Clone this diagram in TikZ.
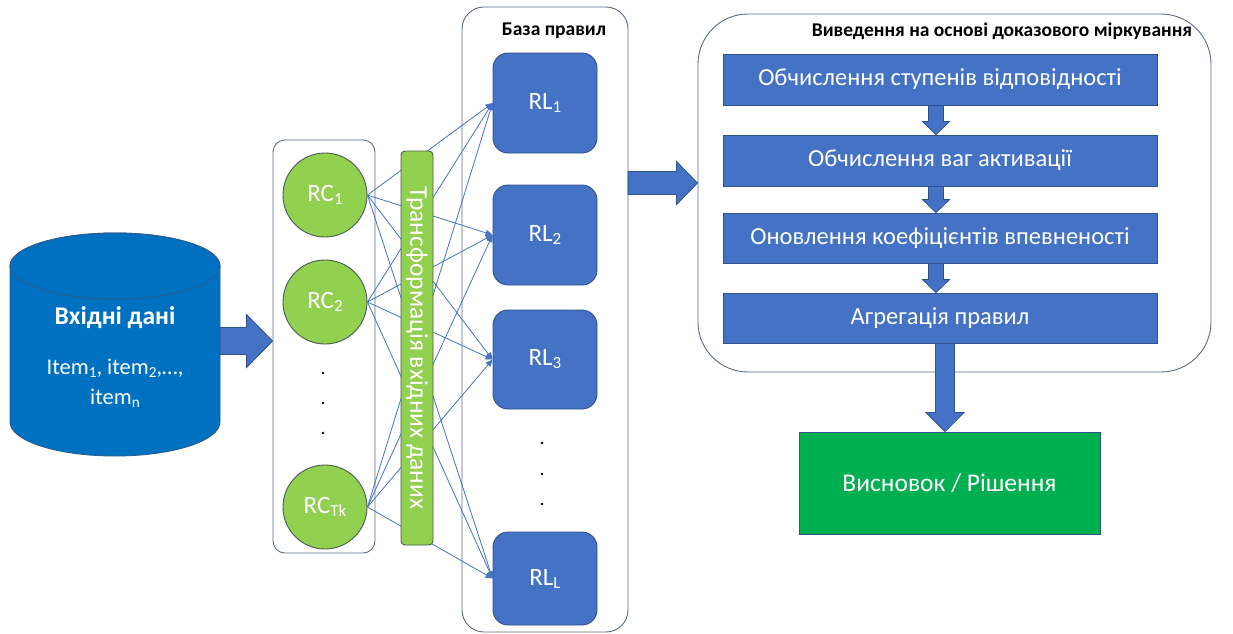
\documentclass[tikz,border=0pt]{standalone}
\usepackage{fontspec}
\setmainfont{Carlito}
\usepackage{graphicx}
\usetikzlibrary{arrows.meta,calc}
\definecolor{boxblue}{HTML}{4472C4}
\definecolor{boxedge}{HTML}{2F528F}
\definecolor{cylblue}{HTML}{0070C0}
\definecolor{cyledge}{HTML}{2A5C8F}
\definecolor{lgreen}{HTML}{92D050}
\definecolor{dgreen}{HTML}{00B050}
\definecolor{frame}{HTML}{5B6B82}
\definecolor{circedge}{HTML}{4A5A55}
\newcommand{\sbs}[1]{\raisebox{-0.12em}{\scalebox{0.68}{#1}}}
\begin{document}
\begin{tikzpicture}[x=1pt,y=-1pt,
  container/.style={draw=frame,line width=0.9pt,rounded corners=#1},
  rcnode/.style={circle,draw=circedge,line width=0.9pt,fill=lgreen,minimum size=84pt,inner sep=0pt,text=white,font=\fontsize{25}{30}\selectfont},
  rlnode/.style={draw=boxedge,line width=0.9pt,fill=boxblue,rounded corners=15pt,minimum width=104pt,inner sep=0pt,text=white,font=\fontsize{25}{30}\selectfont},
  stepbox/.style={draw=boxedge,line width=0.9pt,fill=boxblue,minimum width=434pt,inner sep=0pt,text=white,font=\fontsize{24.5}{29}\selectfont},
  blockarrow/.style={draw=boxedge,line width=0.8pt,fill=boxblue},
  link/.style={draw=boxblue,line width=0.8pt,-{Triangle[length=7pt,width=6pt]}},
  title/.style={font=\bfseries\fontsize{19.5}{23}\selectfont},
  hblock/.style n args={3}{to path={let \p1=(\tikztostart),\p2=(\tikztotarget) in (\x1,\y1+#1) -- (\x2-#3,\y1+#1) -- (\x2-#3,\y1+#2) -- (\x2,\y1) -- (\x2-#3,\y1-#2) -- (\x2-#3,\y1-#1) -- (\x1,\y1-#1) -- cycle}},
  vblock/.style n args={3}{to path={let \p1=(\tikztostart),\p2=(\tikztotarget) in (\x1-#1,\y1) -- (\x1-#1,\y2+#3) -- (\x1-#2,\y2+#3) -- (\x1,\y2) -- (\x1+#2,\y2+#3) -- (\x1+#1,\y2+#3) -- (\x1+#1,\y1) -- cycle}}
]
\useasboundingbox (0,0) rectangle (1233,633);

% cylinder (input data)
\path[fill=cylblue,draw=cyledge,line width=0.9pt]
  (10,266) -- (10,422) arc[start angle=180,end angle=360,x radius=105pt,y radius=34pt]
  -- (220,266) arc[start angle=0,end angle=180,x radius=105pt,y radius=33pt] -- cycle;
\draw[cyledge,line width=0.9pt] (115,266) ellipse[x radius=105pt,y radius=33pt];
\node[text=white,font=\bfseries\fontsize{25.5}{30}\selectfont] (cyltitle) at (115,318) {Вхідні дані};
\node[text=white,align=center,font=\fontsize{22.5}{30}\selectfont] (cylitems) at (115,383) {Item\sbs{1}, item\sbs{2},…,\\item\sbs{n}};
\coordinate (cylR) at (220,341);

% containers
\node[container=12pt,minimum width=102pt,minimum height=413pt] (rcbox) at (324,346.5) {};
\node[container=22pt,minimum width=166pt,minimum height=625pt] (rlbox) at (545,319.5) {};
\node[container=50pt,minimum width=513pt,minimum height=358pt] (infbox) at (954.5,193) {};
\node[title] (rltitle) at (554,31) {База правил};
\node[title] (inftitle) at (1002,31) {Виведення на основі доказового міркування};

% RC nodes
\node[rcnode] (rc1) at (325,195) {RC\sbs{1}};
\node[rcnode] (rc2) at (325,302) {RC\sbs{2}};
\node[rcnode] (rck) at (325,507) {RC\sbs{Tk}};
\foreach \yy [count=\i] in {373,403,433} \fill (323,\yy) circle[radius=1.4pt] coordinate (rcdot\i);

% RL nodes
\node[rlnode,minimum height=100pt] (rl1) at (545,103) {RL\sbs{1}};
\node[rlnode,minimum height=100pt] (rl2) at (545,235) {RL\sbs{2}};
\node[rlnode,minimum height=99pt] (rl3) at (545,359.5) {RL\sbs{3}};
\node[rlnode,minimum height=93pt] (rll) at (545,578.5) {RL\sbs{L}};
\foreach \yy [count=\i] in {443,474,504} \fill (542,\yy) circle[radius=1.4pt] coordinate (rldot\i);

% links
\foreach \c in {rc1,rc2,rck}
  \foreach \r in {rl1,rl2,rl3,rll}
    \draw[link] (\c.east) -- (\r.west);

% transformation bar
\node[draw=circedge,line width=0.9pt,fill=lgreen,rounded corners=4pt,minimum width=32pt,minimum height=394pt,inner sep=0pt] (tbar) at (417,348) {};
\node[rotate=-90,text=white,font=\fontsize{25.5}{30}\selectfont] (tbartext) at (tbar.center) {Трансформація вхідних даних};

% inference steps
\node[stepbox,minimum height=51pt] (s1) at (940,79.5) {Обчислення ступенів відповідності};
\node[stepbox,minimum height=51pt] (s2) at (940,160.5) {Обчислення ваг активації};
\node[stepbox,minimum height=50pt] (s3) at (940,238) {Оновлення коефіцієнтів впевненості};
\node[stepbox,minimum height=50pt] (s4) at (940,318) {Агрегація правил};
\node[draw=boxedge,line width=0.9pt,fill=dgreen,minimum width=301pt,minimum height=102pt,text=white,font=\fontsize{25.5}{30}\selectfont] (concl) at (949.5,483) {Висновок / Рішення};

% block arrows
\coordinate (ax) at (936,0);
\coordinate (bx) at (945,0);
\coordinate (rlR) at (628,183);
\path[blockarrow] (cylR) to[hblock={13.5pt}{26.5pt}{26pt}] (rcbox.west |- cylR);
\path[blockarrow] (rlR) to[hblock={11.5pt}{21.5pt}{21pt}] (infbox.west |- rlR);
\path[blockarrow] (s1.south -| ax) to[vblock={7.5pt}{13.5pt}{13pt}] (s2.north -| ax);
\path[blockarrow] (s2.south -| ax) to[vblock={7.5pt}{13.5pt}{13pt}] (s3.north -| ax);
\path[blockarrow] (s3.south -| ax) to[vblock={7.5pt}{13.5pt}{13pt}] (s4.north -| ax);
\path[blockarrow] (s4.south -| bx) to[vblock={9.5pt}{19pt}{19pt}] (concl.north -| bx);
\end{tikzpicture}
\end{document}
